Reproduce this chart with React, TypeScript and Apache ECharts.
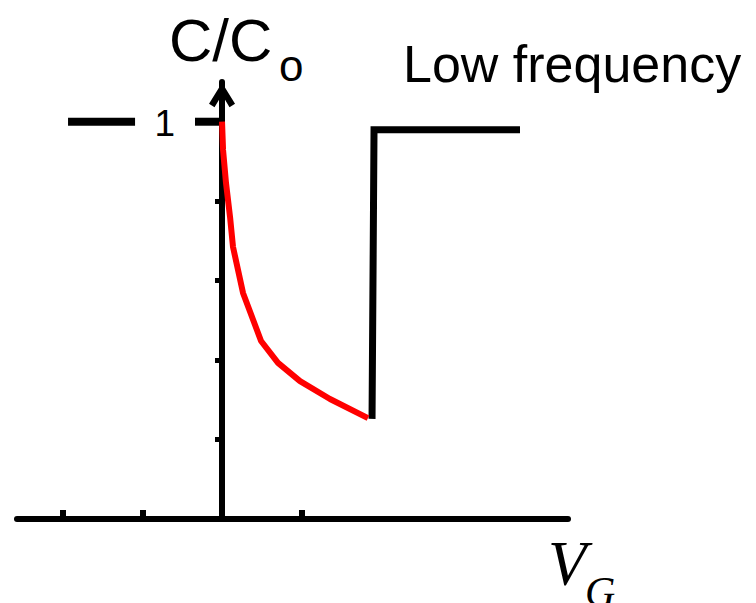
import React, { useEffect, useRef } from "react";
import * as echarts from "echarts";

// ---- data ----
// red curve: depletion region, C/Co vs V_G
const redX = [0, 0.013, 0.05, 0.101, 0.138, 0.264, 0.491, 0.704, 0.981, 1.358, 1.836];
const redY = [1.0, 0.929, 0.846, 0.76, 0.685, 0.569, 0.448, 0.393, 0.347, 0.302, 0.254];
// black step: inversion (low frequency) jumps back to ~1
const stepX = [1.887, 1.912, 3.748];
const stepY = [0.252, 0.98, 0.98];
// accumulation level C/Co = 1 (left of the axis), drawn in two pieces around the "1" label
const accAX = [-1.937, -1.094];
const accBX = [-0.34, 0];
const accLevel = 1;
// axes
const xTicks = [-2, -1, 1];
const yTicks = [0.2, 0.4, 0.6, 0.8];
const yLabelText = "1";
const xMin = -2.579;
const xMax = 4.352;
const yMin = 0;
const yMax = 1.1;

const zip = (xs: number[], ys: number[]) => xs.map((x, i) => [x, ys[i]]);

export default function App() {
  const ref = useRef<HTMLDivElement>(null);
  useEffect(() => {
    if (!ref.current) return;
    const chart = echarts.init(ref.current, undefined, { renderer: "svg" });
    const sans = "Arial, 'Liberation Sans', sans-serif";
    const serif = "'Times New Roman', 'Liberation Serif', serif";
    chart.setOption({
      animation: false,
      backgroundColor: "#ffffff",
      grid: { left: 17, right: 188, top: 82, bottom: 84, containLabel: false, outerBoundsMode: "none" },
      xAxis: {
        type: "value",
        min: xMin,
        max: xMax,
        splitLine: { show: false },
        axisLine: { show: true, onZero: true, lineStyle: { color: "#000", width: 6 } },
        axisTick: {
          show: true,
          inside: true,
          length: 9,
          customValues: xTicks,
          lineStyle: { color: "#000", width: 6 },
        },
        axisLabel: { show: false },
      },
      yAxis: {
        type: "value",
        min: yMin,
        max: yMax,
        splitLine: { show: false },
        axisLine: {
          show: true,
          onZero: true,
          symbol: ["none", "path://M13,0 L26,21 L20.5,24.5 L13,12 L5.5,24.5 L0,21 Z"],
          symbolSize: [26, 24.5],
          symbolOffset: [0, -13],
          lineStyle: { color: "#000", width: 6 },
        },
        axisTick: {
          show: true,
          inside: false,
          length: 7,
          customValues: yTicks,
          lineStyle: { color: "#000", width: 5 },
        },
        axisLabel: { show: false },
      },
      series: [
        {
          type: "line",
          data: zip(accAX, accAX.map(() => accLevel)),
          symbol: "none",
          lineStyle: { color: "#000", width: 8 },
          z: 3,
        },
        {
          type: "line",
          data: zip(accBX, accBX.map(() => accLevel)),
          symbol: "none",
          lineStyle: { color: "#000", width: 8 },
          z: 3,
        },
        {
          type: "line",
          data: zip(stepX, stepY),
          symbol: "none",
          lineStyle: { color: "#000", width: 7, join: "miter" },
          z: 3,
        },
        {
          type: "line",
          data: zip(redX, redY),
          symbol: "none",
          lineStyle: { color: "#ff0000", width: 6 },
          z: 4,
        },
      ],
      graphic: [
        {
          type: "text",
          x: 175,
          y: 123,
          style: { text: yLabelText, fontSize: 37, fontFamily: sans, fill: "#000", textAlign: "right", textVerticalAlign: "middle" },
        },
        {
          type: "text",
          x: 169,
          y: 40,
          style: { text: "C/C", fontSize: 60, fontFamily: sans, fill: "#000", textAlign: "left", textVerticalAlign: "middle" },
        },
        {
          type: "text",
          x: 279,
          y: 65,
          style: { text: "o", fontSize: 44, fontFamily: sans, fill: "#000", textAlign: "left", textVerticalAlign: "middle" },
        },
        {
          type: "text",
          x: 403,
          y: 64,
          style: { text: "Low frequency", fontSize: 52, fontFamily: sans, fill: "#000", textAlign: "left", textVerticalAlign: "middle" },
        },
        {
          type: "text",
          x: 548,
          y: 564,
          style: { text: "V", fontSize: 63, fontStyle: "italic", fontFamily: serif, fill: "#000", textAlign: "left", textVerticalAlign: "middle" },
        },
        {
          type: "text",
          x: 585,
          y: 592,
          style: { text: "G", fontSize: 42, fontStyle: "italic", fontFamily: serif, fill: "#000", textAlign: "left", textVerticalAlign: "middle" },
        },
      ],
    });
    return () => chart.dispose();
  }, []);
  return (
    <div
      ref={ref}
      style={{ position: "fixed", left: 0, top: 0, width: 756, height: 603, background: "#fff" }}
    />
  );
}
